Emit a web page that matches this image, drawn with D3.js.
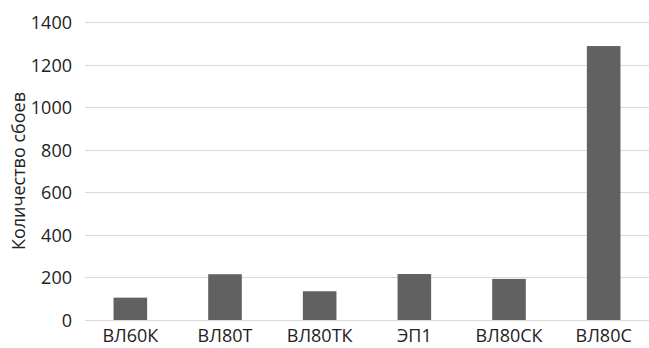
<!DOCTYPE html>
<html>
<head>
<meta charset="utf-8">
<script src="https://cdn.jsdelivr.net/npm/d3@7"></script>
<style>
  html, body { margin: 0; padding: 0; background: #fff; }
  svg { display: block; font-family: "Open Sans", "Noto Sans", sans-serif; }
</style>
</head>
<body>
<svg id="chart" width="649" height="348"></svg>
<script>
// Locomotive series and failure counts
const categories = ["ВЛ60К", "ВЛ80Т", "ВЛ80ТК", "ЭП1", "ВЛ80СК", "ВЛ80С"];
const failures = [105, 215, 135, 216, 193, 1287];
const yTicks = [0, 200, 400, 600, 800, 1000, 1200, 1400];
const yTitle = "Количество сбоев";

const svg = d3.select("#chart");
const W = 649, H = 348;
const margin = { left: 85, right: 0, top: 22, bottom: 28 };
const FONT = "'Open Sans', sans-serif";
const FS = 18;
const TEXT = "#222";

const x = d3.scaleBand()
  .domain(categories)
  .range([83, 651])
  .paddingInner(0.645)
  .paddingOuter(0.3225);

const y = d3.scaleLinear()
  .domain([0, 1400])
  .range([H - margin.bottom, margin.top]);

// horizontal gridlines
svg.append("g")
  .selectAll("line")
  .data(yTicks)
  .join("line")
  .attr("x1", margin.left)
  .attr("x2", W)
  .attr("y1", d => Math.round(y(d)) + 0.5)
  .attr("y2", d => Math.round(y(d)) + 0.5)
  .attr("stroke", "#d9d9d9")
  .attr("stroke-width", 1);

// bars
svg.append("g")
  .selectAll("rect")
  .data(categories.map((c, i) => ({ c, v: failures[i] })))
  .join("rect")
  .attr("x", d => x(d.c))
  .attr("width", x.bandwidth())
  .attr("y", d => y(d.v))
  .attr("height", d => y(0) - y(d.v))
  .attr("fill", "#616161");

// y axis labels
const yAxis = d3.axisLeft(y).tickValues(yTicks).tickFormat(d3.format("d"))
  .tickSize(0).tickPadding(0);
const gy = svg.append("g")
  .attr("transform", "translate(72,0)")
  .call(yAxis);
gy.select(".domain").remove();
gy.selectAll("text")
  .attr("dy", "0.36em")
  .attr("font-size", FS)
  .attr("font-family", FONT)
  .attr("fill", TEXT);

// x axis labels
const xAxis = d3.axisBottom(x).tickSize(0).tickPadding(0);
const gx = svg.append("g")
  .attr("transform", `translate(0,${H - margin.bottom})`)
  .call(xAxis);
gx.select(".domain").remove();
gx.selectAll("text")
  .attr("dy", null)
  .attr("y", 22)
  .attr("font-size", FS)
  .attr("font-family", FONT)
  .attr("fill", TEXT);

// y axis title
svg.append("text")
  .attr("transform", `translate(25,${(y(0) + y(1400)) / 2}) rotate(-90)`)
  .attr("text-anchor", "middle")
  .attr("font-size", FS)
  .attr("font-family", FONT)
  .attr("fill", TEXT)
  .text(yTitle);
</script>
</body>
</html>
